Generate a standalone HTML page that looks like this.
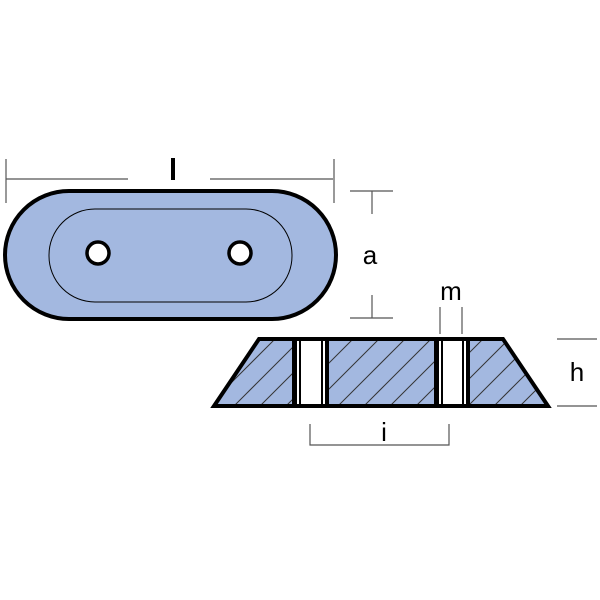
<!DOCTYPE html>
<html><head><style>body{margin:0;background:#fff}svg{display:block}</style></head><body>
<svg width="600" height="600" viewBox="0 0 600 600" xmlns="http://www.w3.org/2000/svg">
<defs>
<clipPath id="tc"><polygon points="259,339 503,339 548,406 214,406"/></clipPath>
</defs>
<!-- top view -->
<rect x="5" y="191" width="331" height="128" rx="64" ry="64" fill="#a3b8e0" stroke="#000" stroke-width="4"/>
<rect x="49" y="209" width="243" height="93" rx="46" ry="46" fill="none" stroke="#000" stroke-width="1"/>
<circle cx="98" cy="253" r="11" fill="#fff" stroke="#000" stroke-width="3.5"/>
<circle cx="240" cy="253" r="11" fill="#fff" stroke="#000" stroke-width="3.5"/>
<g stroke="#555" stroke-width="1.2" fill="none">
<line x1="6" y1="179" x2="128" y2="179"/><line x1="210" y1="179" x2="333" y2="179"/>
<line x1="6" y1="159" x2="6" y2="203"/><line x1="334" y1="159" x2="334" y2="203"/>
<line x1="350" y1="191" x2="393" y2="191"/><line x1="372" y1="191" x2="372" y2="214"/>
<line x1="350" y1="318" x2="393" y2="318"/><line x1="372" y1="295" x2="372" y2="318"/>
<line x1="440" y1="307" x2="440" y2="334"/><line x1="462" y1="307" x2="462" y2="334"/>
<line x1="557" y1="339" x2="597" y2="339"/><line x1="557" y1="406" x2="597" y2="406"/>
<polyline points="310,424 310,445 449,445 449,424"/>
</g>
<g font-family="Liberation Sans, sans-serif" font-size="26" fill="#000">
<rect x="171" y="158" width="4" height="22"/>
<text x="370" y="264" text-anchor="middle">a</text>
<text x="451" y="300" text-anchor="middle">m</text>
<text x="577" y="381" text-anchor="middle">h</text>
<text x="384" y="441" text-anchor="middle">i</text>
</g>
<!-- side view -->
<polygon points="259,339 503,339 548,406 214,406" fill="#a3b8e0"/>
<g clip-path="url(#tc)" stroke="#333" stroke-width="1">
<line x1="200" y1="440" x2="320" y2="320"/><line x1="226" y1="440" x2="346" y2="320"/>
<line x1="252" y1="440" x2="372" y2="320"/><line x1="278" y1="440" x2="398" y2="320"/>
<line x1="304" y1="440" x2="424" y2="320"/><line x1="330" y1="440" x2="450" y2="320"/>
<line x1="356" y1="440" x2="476" y2="320"/><line x1="382" y1="440" x2="502" y2="320"/>
<line x1="408" y1="440" x2="528" y2="320"/><line x1="434" y1="440" x2="554" y2="320"/>
<line x1="460" y1="440" x2="580" y2="320"/><line x1="486" y1="440" x2="606" y2="320"/>
<line x1="174" y1="440" x2="294" y2="320"/>
</g>
<g fill="#000">
<rect x="292" y="339" width="5" height="67"/><rect x="297" y="339" width="2" height="67" fill="#fff"/>
<rect x="299" y="339" width="2" height="67"/><rect x="301" y="339" width="20" height="67" fill="#fff"/>
<rect x="321" y="339" width="2" height="67"/><rect x="323" y="339" width="2" height="67" fill="#fff"/>
<rect x="325" y="339" width="4" height="67"/>
<rect x="434" y="339" width="5" height="67"/><rect x="439" y="339" width="2" height="67" fill="#fff"/>
<rect x="441" y="339" width="2" height="67"/><rect x="443" y="339" width="19" height="67" fill="#fff"/>
<rect x="462" y="339" width="2" height="67"/><rect x="464" y="339" width="2" height="67" fill="#fff"/>
<rect x="466" y="339" width="4" height="67"/>
</g>
<polygon points="259,339 503,339 548,406 214,406" fill="none" stroke="#000" stroke-width="4" stroke-linejoin="miter"/>
</svg>
</body></html>
